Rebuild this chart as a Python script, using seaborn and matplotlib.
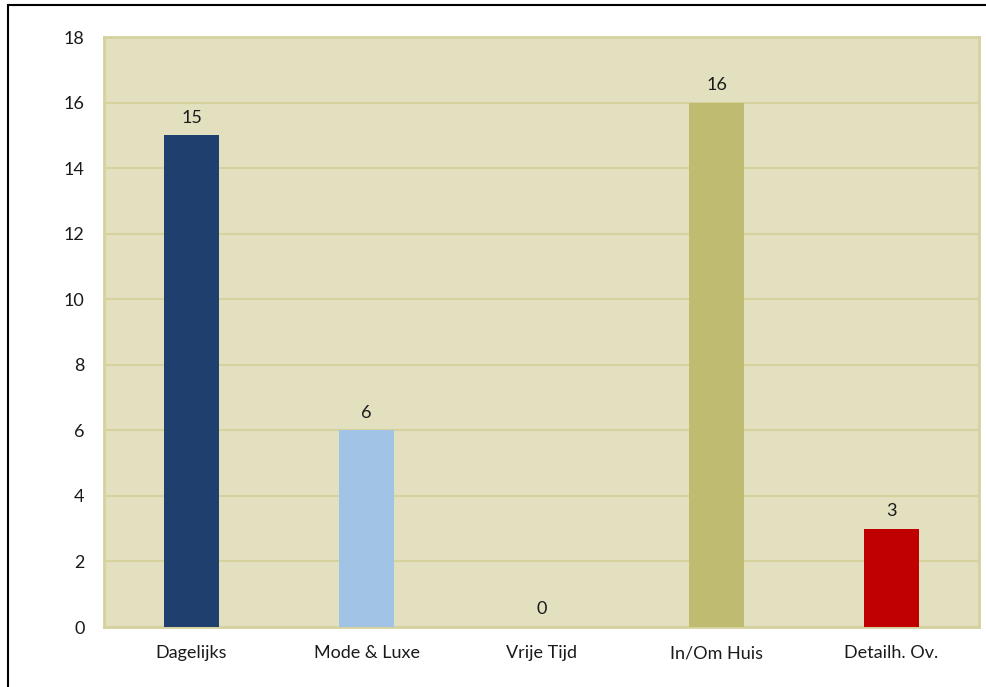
import matplotlib
matplotlib.use("Agg")
import matplotlib.pyplot as plt
import seaborn as sns
import pandas as pd
from matplotlib.patches import Rectangle

categories = ["Dagelijks", "Mode & Luxe", "Vrije Tijd", "In/Om Huis", "Detailh. Ov."]
values = [15, 6, 0, 16, 3]
colors = ["#1F3F6F", "#A0C3E6", "#8064A2", "#BFBC72", "#C00000"]
yticks = [0, 2, 4, 6, 8, 10, 12, 14, 16, 18]

df = pd.DataFrame({"cat": categories, "val": values})

sns.set_theme(style="white")
plt.rcParams["font.family"] = ["Lato", "DejaVu Sans"]

W, H = 986, 687
fig = plt.figure(figsize=(W / 100, H / 100), dpi=100)
fig.patch.set_facecolor("white")
ax = fig.add_axes([104 / W, 1 - 627 / H, (979 - 104) / W, (627 - 37) / H])
ax.set_facecolor("#E2E0BF")

sns.barplot(data=df, x="cat", y="val", hue="cat", palette=colors,
            width=0.315, legend=False, ax=ax, saturation=1, zorder=3,
            linewidth=0, edgecolor="none")

ax.set_ylim(0, 18)
ax.set_xlim(-0.5, len(categories) - 0.5)
ax.set_yticks(yticks)
ax.set_yticklabels([str(t) for t in yticks])
ax.yaxis.grid(True, color="#D5D29E", linewidth=1.5, zorder=0)
ax.set_axisbelow(True)
ax.set_xlabel("")
ax.set_ylabel("")
for s in ax.spines.values():
    s.set_color("#D5D29E")
    s.set_linewidth(2)
ax.tick_params(axis="both", length=0, labelsize=13, colors="#1a1a1a")
ax.tick_params(axis="y", pad=14)
ax.tick_params(axis="x", pad=13)

for c in ax.containers:
    ax.bar_label(c, labels=[str(int(v)) for v in c.datavalues], padding=7,
                 fontsize=13, color="#1a1a1a")

# outer frame around the chart
fig.patches.append(Rectangle((8 / W, -0.05), 2.0, 1 - 5 / H + 0.05,
                             transform=fig.transFigure, fill=False,
                             edgecolor="black", linewidth=1.5))

fig.savefig("out.png", dpi=100)
